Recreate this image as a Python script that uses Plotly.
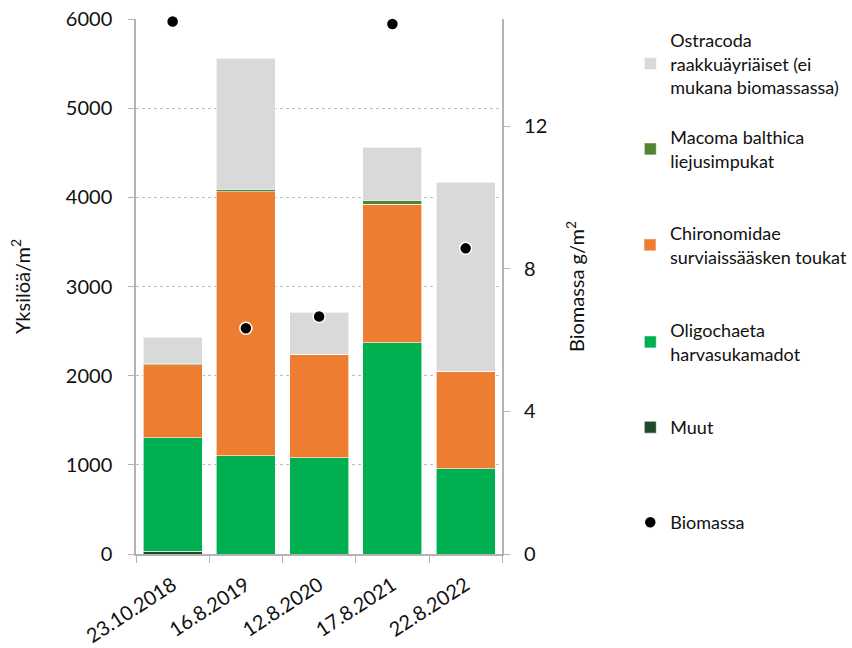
import plotly.graph_objects as go

# Sampling dates
dates = ["23.10.2018", "16.8.2019", "12.8.2020", "17.8.2021", "22.8.2022"]

# Individuals per m2 by group
muut = [30, 0, 0, 0, 0]
oligochaeta = [1275, 1100, 1080, 2370, 955]
chironomidae = [815, 2960, 1160, 1555, 1097]
macoma = [18, 33, 0, 45, 0]
ostracoda = [292, 1466, 474, 591, 2116]

# Biomass g/m2 (Ostracoda excluded)
biomassa = [14.93, 6.33, 6.66, 14.86, 8.57]

FONT = "Lato"
W, H = 852, 648
L, R, T, B = 136, 0, 19, 94
PLOT_RIGHT = 508
paper_w = W - L - R
paper_h = H - T - B

def paper_y(px):
    return (H - B - px) / paper_h

def paper_x(px):
    return (px - L) / paper_w

series = [
    ("Muut", muut, "#1d4a2a", "legend5"),
    ("Oligochaeta<br>harvasukamadot", oligochaeta, "#00b050", "legend4"),
    ("Chironomidae<br>surviaissääsken toukat", chironomidae, "#ed7d31", "legend3"),
    ("Macoma balthica<br>liejusimpukat", macoma, "#548235", "legend2"),
    ("Ostracoda<br>raakkuäyriäiset (ei<br>mukana biomassassa)", ostracoda, "#d9d9d9", "legend"),
]

fig = go.Figure()
for name, vals, color, leg in series:
    fig.add_trace(go.Bar(
        x=dates, y=vals, name=name, legend=leg,
        marker=dict(color=color, line=dict(color="white", width=0.6)),
    ))

fig.add_trace(go.Scatter(
    x=dates, y=biomassa, name="Biomassa", yaxis="y2", mode="markers",
    legend="legend6", cliponaxis=False,
    marker=dict(color="black", size=12, line=dict(color="white", width=1.5)),
))

# first text line of each legend entry (pixel rows)
legend_rows = {"legend": 40, "legend2": 137, "legend3": 233,
               "legend4": 330, "legend5": 427, "legend6": 522}
for key, ypx in legend_rows.items():
    fig.update_layout({key: dict(
        x=paper_x(638), xanchor="left", y=paper_y(ypx - 18), yanchor="top",
        bgcolor="rgba(0,0,0,0)", font=dict(family=FONT, size=18, color="#111"),
        itemclick=False,
    )})

axis_col = "#b3b3b3"
fig.update_layout(
    width=W, height=H,
    margin=dict(l=L, r=R, t=T, b=B),
    paper_bgcolor="white", plot_bgcolor="white",
    barmode="stack", bargap=0.195,
    font=dict(family=FONT, size=20, color="#111"),
    showlegend=True,
    xaxis=dict(
        type="category", tickangle=-33, tickson="boundaries",
        domain=[0, paper_x(PLOT_RIGHT)], automargin=False,
        ticks="outside", ticklen=7, tickcolor=axis_col,
        showline=True, linecolor=axis_col, linewidth=1.5,
        tickfont=dict(size=20), ticklabelstandoff=10,
    ),
    yaxis=dict(
        range=[0, 6000], dtick=1000, automargin=False,
        showgrid=True, gridcolor="#bfbfbf", griddash="dot", gridwidth=1,
        ticks="outside", ticklen=6, tickcolor=axis_col,
        showline=True, linecolor=axis_col, linewidth=1.5,
        zeroline=False, ticklabelstandoff=12,
        title=dict(text="Yksilöä/m<sup>2</sup>", font=dict(size=20), standoff=30),
    ),
    yaxis2=dict(
        range=[0, 15], dtick=4, overlaying="y", side="right",
        showgrid=False, zeroline=False, automargin=False,
        ticks="outside", ticklen=6, tickcolor=axis_col,
        showline=True, linecolor=axis_col, linewidth=1.5,
        ticklabelstandoff=10,
        title=dict(text="Biomassa g/m<sup>2</sup>", font=dict(size=20), standoff=24),
    ),
)

fig.write_html("out.html")
